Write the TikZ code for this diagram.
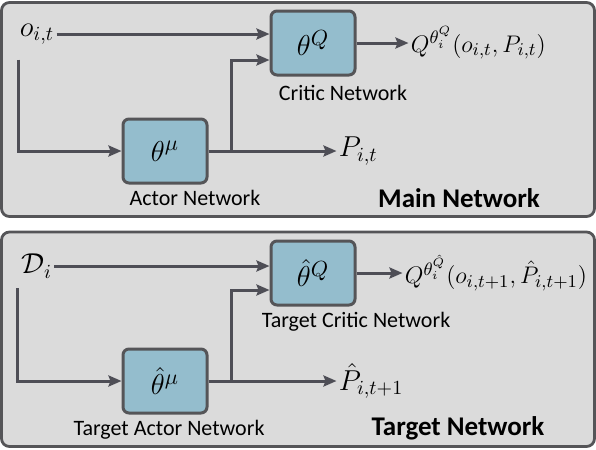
\documentclass[tikz,border=0pt]{standalone}
\usepackage{fontspec}
\setmainfont{Carlito}
\usepackage{amsmath}
\usepackage{tikz}
\usetikzlibrary{arrows.meta, positioning, calc}
\definecolor{mydark}{RGB}{78,78,86}
\definecolor{myframe}{RGB}{85,85,88}
\definecolor{myback}{RGB}{219,219,219}
\definecolor{myblue}{RGB}{148,189,205}
\tikzset{
  netbox/.style={rectangle, draw=myframe, fill=myblue,
    minimum width=42pt, minimum height=32pt,
    font=\fontsize{15}{17}\selectfont, rounded corners=3pt, line width=1.5pt},
  panel/.style={draw=myframe, fill=myback, rounded corners=4pt, line width=1.4pt},
  mathlbl/.style={inner sep=1pt, font=\fontsize{14.5}{16}\selectfont},
  netlabel/.style={inner sep=0pt, font=\fontsize{11}{13}\selectfont},
  paneltitle/.style={inner sep=0pt, font=\fontsize{13.5}{15}\selectfont\bfseries},
  arrow/.style={-{Stealth[length=6.5pt, width=5.5pt, inset=1pt]}, line width=1.5pt, color=mydark}
}

\begin{document}
\begin{tikzpicture}[x=0.5pt, y=-0.5pt]
  \useasboundingbox (0,0) rectangle (596,450);

  % Panels
  \draw[panel] (1.5,2.5) rectangle (594.5,216.5);
  \draw[panel] (1.5,232) rectangle (594.5,446.5);

  % Main network
  \node[netbox] (actor) at (165,151) {$\theta^{\mu}$};
  \node[netbox, above right=20.5pt and 30.5pt of actor] (critic) {$\theta^{Q}$};
  \node[mathlbl] (obs) at (37,34) {$o_{i,t}$};
  \node[mathlbl, right=26pt of critic, font=\fontsize{13}{15}\selectfont] (qout) {$Q^{\theta_i^{Q}}(o_{i,t},P_{i,t})$};
  \node[mathlbl, right=64pt of actor] (pout) {$P_{i,t}$};
  \coordinate (fork) at ([xshift=11.5pt]actor.east);

  \draw[arrow] (obs.east) -- (obs.east -| critic.west);
  \draw[arrow] ([shift={(0.5pt,-6.5pt)}]obs.south west) |- (actor.west);
  \draw[arrow] (actor.east) -- (pout.west);
  \draw[arrow] (fork) |- ([yshift=-8.5pt]critic.west);
  \draw[arrow] (critic.east) -- (qout.west);

  \node[netlabel, below=2.5pt of actor, xshift=15pt] (actorlbl) {Actor Network};
  \node[netlabel, below=4pt of critic, xshift=15pt] (criticlbl) {Critic Network};
  \node[paneltitle] (maintitle) at (459,198) {Main Network};

  % Target network
  \node[netbox] (tactor) at (165,381) {$\hat{\theta}^{\mu}$};
  \node[netbox, above right=20.5pt and 30.5pt of tactor] (tcritic) {$\hat{\theta}^{Q}$};
  \node[mathlbl] (data) at (37,266) {$\mathcal{D}_i$};
  \node[mathlbl, right=23pt of tcritic, font=\fontsize{13}{15}\selectfont] (tqout) {$Q^{\theta_i^{\hat{Q}}}(o_{i,t+1},\hat{P}_{i,t+1})$};
  \node[mathlbl, right=64pt of tactor] (tpout) {$\hat{P}_{i,t+1}$};
  \coordinate (tfork) at ([xshift=11.5pt]tactor.east);

  \draw[arrow] (data.east) -- (data.east -| tcritic.west);
  \draw[arrow] ([shift={(-1pt,-4pt)}]data.south west) |- (tactor.west);
  \draw[arrow] (tactor.east) -- (tpout.west);
  \draw[arrow] (tfork) |- ([yshift=-8.5pt]tcritic.west);
  \draw[arrow] (tcritic.east) -- (tqout.west);

  \node[netlabel, below=2.5pt of tactor, xshift=2pt] (tactorlbl) {Target Actor Network};
  \node[netlabel, below=2.5pt of tcritic, xshift=21.5pt] (tcriticlbl) {Target Critic Network};
  \node[paneltitle] (targettitle) at (458,428) {Target Network};
\end{tikzpicture}
\end{document}
